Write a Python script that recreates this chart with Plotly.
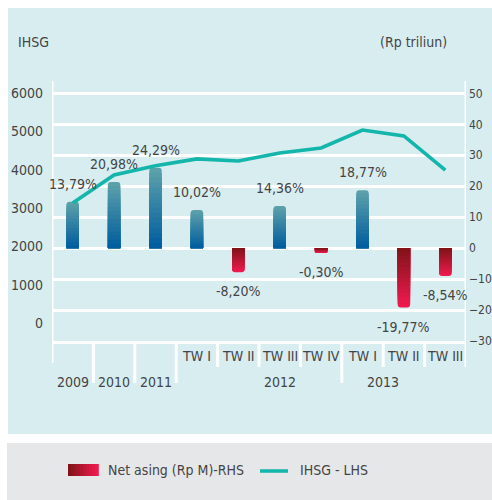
import plotly.graph_objects as go

# ---------------- data ----------------
categories = ["2009", "2010", "2011", "TW I 2012", "TW II 2012", "TW III 2012",
              "TW IV 2012", "TW I 2013", "TW II 2013", "TW III 2013"]
quarter_labels = ["", "", "", "TW I", "TW II", "TW III", "TW IV", "TW I", "TW II", "TW III"]
year_labels = ["2009", "2010", "2011", "", "", "", "", "", "", ""]
group_labels = ["2012", "2013"]
net_asing = [15.0, 21.4, 26.0, 12.3, -7.8, 13.6, -1.6, 18.7, -19.2, -9.0]      # Rp triliun (RHS)
ihsg = [3130, 3860, 4100, 4280, 4225, 4435, 4565, 5035, 4880, 3990]            # IHSG (LHS)
pct_labels = ["13,79%", "20,98%", "24,29%", "10,02%", "-8,20%", "14,36%",
              "-0,30%", "18,77%", "-19,77%", "-8,54%"]
left_ticks = [0, 1000, 2000, 3000, 4000, 5000, 6000]
right_ticks = [-30, -20, -10, 0, 10, 20, 30, 40, 50]

# ---------------- geometry / style ----------------
W, H = 492, 500
L, R, T, B = 52, 466, 81, 341


def px(x):
    return (x - L) / (R - L)


def py(y):
    return (B - y) / (B - T)


FONT = "DejaVu Sans Condensed, Liberation Sans Narrow, sans-serif"
TXT = "#444444"
FS = 14
POS_FAR, POS_NEAR = (0x5c, 0xa0, 0xaa), (0x02, 0x5e, 0x9e)
NEG_FAR, NEG_NEAR = (0xee, 0x1a, 0x4e), (0x84, 0x13, 0x19)
LINE_COLOR = "#14b5ab"


def lerp(c1, c2, t):
    return "rgb(%d,%d,%d)" % tuple(round(a + (b - a) * t) for a, b in zip(c1, c2))


fig = go.Figure()

# stepped vertical gradient for the bars (overlaid, progressively shorter)
N = 16
for k in range(N):
    frac = 1 - k / N
    t = k / (N - 1)
    colors = [lerp(POS_FAR, POS_NEAR, t) if v >= 0 else lerp(NEG_FAR, NEG_NEAR, t)
              for v in net_asing]
    fig.add_trace(go.Bar(
        x=categories, y=[v * frac for v in net_asing], yaxis="y",
        width=0.3, marker=dict(color=colors, line=dict(width=0),
                               cornerradius=3 if k == 0 else 0),
        showlegend=False, hoverinfo="skip" if k else "x+y",
        name="Net asing (Rp M)-RHS"))

fig.add_trace(go.Scatter(
    x=categories, y=ihsg, yaxis="y2", mode="lines",
    line=dict(color=LINE_COLOR, width=3.6), showlegend=False, name="IHSG - LHS"))

shapes = []
# background panels
shapes.append(dict(type="rect", xref="paper", yref="paper", layer="below",
                   x0=px(8), x1=px(500), y0=py(434), y1=py(8),
                   fillcolor="#d7edf0", line=dict(width=0)))
shapes.append(dict(type="rect", xref="paper", yref="paper", layer="below",
                   x0=px(7), x1=px(500), y0=py(505), y1=py(443),
                   fillcolor="#e6e7e9", line=dict(width=0)))
# vertical axis lines
shapes.append(dict(type="line", xref="x", yref="paper", x0=-0.5, x1=-0.5,
                   y0=py(363), y1=1, line=dict(color="white", width=3)))
shapes.append(dict(type="line", xref="x", yref="paper", x0=9.5, x1=9.5,
                   y0=py(367), y1=1, line=dict(color="white", width=3)))
# category separators
for b in [0.5, 1.5, 2.5, 6.5]:
    shapes.append(dict(type="line", xref="x", yref="paper", x0=b, x1=b,
                       y0=py(383), y1=0, line=dict(color="white", width=3)))
for b in [3.5, 4.5, 5.5, 7.5, 8.5]:
    shapes.append(dict(type="line", xref="x", yref="paper", x0=b, x1=b,
                       y0=py(367), y1=0, line=dict(color="white", width=3)))

# legend swatches
nseg = 10
x0, x1 = 68, 98
for i in range(nseg):
    shapes.append(dict(type="rect", xref="paper", yref="paper",
                       x0=px(x0 + (x1 - x0) * i / nseg),
                       x1=px(x0 + (x1 - x0) * (i + 1) / nseg + 0.8),
                       y0=py(476), y1=py(464),
                       fillcolor=lerp(NEG_NEAR, NEG_FAR, i / (nseg - 1)), line=dict(width=0)))
shapes.append(dict(type="line", xref="paper", yref="paper", x0=px(260), x1=px(288),
                   y0=py(471), y1=py(471), line=dict(color=LINE_COLOR, width=3.5)))

ann = []
f = dict(family=FONT, size=FS, color=TXT)


def A(**kw):
    d = dict(showarrow=False, font=f, xanchor="center", yanchor="middle")
    d.update(kw)
    ann.append(d)


for i, (v, s) in enumerate(zip(net_asing, pct_labels)):
    A(x=i, y=v, xref="x", yref="y", text=s, yshift=18 if v >= 0 else -19)
for i, q in enumerate(quarter_labels):
    if q:
        A(x=i, y=py(356), xref="x", yref="paper", text=q)
for i, yl in enumerate(year_labels):
    if yl:
        A(x=i, y=py(382), xref="x", yref="paper", text=yl)
for xpos, g in zip([5, 7.5], group_labels):
    A(x=xpos, y=py(382), xref="x", yref="paper", text=g)
A(x=px(16), y=py(42), xref="paper", yref="paper", text="IHSG", xanchor="left")
A(x=px(413), y=py(42), xref="paper", yref="paper", text="(Rp triliun)")
A(x=px(106), y=py(470), xref="paper", yref="paper", text="Net asing (Rp M)-RHS",
  xanchor="left")
A(x=px(298), y=py(470), xref="paper", yref="paper", text="IHSG - LHS", xanchor="left")

rf = dict(family=FONT, size=12, color=TXT)
fig.update_layout(
    width=W, height=H, autosize=False,
    margin=dict(l=L, r=W - R, t=T, b=H - B, pad=0),
    paper_bgcolor="white", plot_bgcolor="rgba(0,0,0,0)",
    barmode="overlay", showlegend=False,
    font=dict(family=FONT, size=FS, color=TXT),
    xaxis=dict(type="category", range=[-0.5, 9.5], showticklabels=False,
               showgrid=False, zeroline=False, showline=True, automargin=False,
               linecolor="white", linewidth=3, ticks=""),
    yaxis=dict(side="right", range=[-30, 54], tickvals=right_ticks,
               showgrid=True, gridcolor="white", gridwidth=2.5, automargin=False,
               zeroline=False, showline=False, ticks="",
               ticklabelstandoff=2, tickfont=rf),
    yaxis2=dict(side="left", overlaying="y", range=[-470, 6313], automargin=False,
                tickvals=left_ticks, showgrid=False, zeroline=False,
                showline=False, ticks="", ticklabelstandoff=8, tickfont=f),
    shapes=shapes, annotations=ann,
)

fig.write_html(
    "out.html",
    config={"displayModeBar": False},
    post_script="document.body.style.margin='0';"
                "document.documentElement.style.overflow='hidden';"
                "document.body.style.overflow='hidden';",
)
